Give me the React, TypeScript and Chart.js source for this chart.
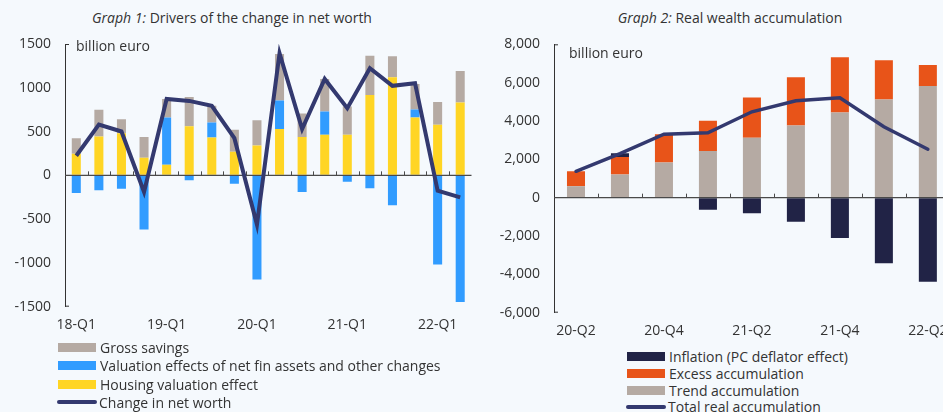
import React, { useEffect, useRef } from "react";
import { Chart, registerables } from "chart.js";

Chart.register(...registerables);

const FONT = "'Open Sans', 'Noto Sans', sans-serif";
const TEXT = "#333333";
const BG = "#f5f9fd";

// ---------- Graph 1 data ----------
const quarters1 = [
  "18-Q1", "18-Q2", "18-Q3", "18-Q4",
  "19-Q1", "19-Q2", "19-Q3", "19-Q4",
  "20-Q1", "20-Q2", "20-Q3", "20-Q4",
  "21-Q1", "21-Q2", "21-Q3", "21-Q4",
  "22-Q1", "22-Q2",
];
const housingValuation = [247, 444, 480, 201, 122, 562, 433, 270, 342, 528, 437, 463, 463, 919, 1120, 661, 577, 832];
const valuationEffects = [-201, -171, -152, -619, 539, -57, 171, -95, -1189, 327, -190, 266, -72, -148, -342, 91, -1018, -1447];
const grossSavings = [178, 304, 162, 236, 212, 334, 190, 250, 288, 531, 269, 372, 323, 448, 240, 292, 262, 361];
const netWorthChange = [224, 581, 501, -190, 873, 850, 794, 425, -562, 1394, 528, 1101, 767, 1223, 1022, 1052, -175, -251];
const labelEvery1 = 4;

// ---------- Graph 2 data ----------
const quarters2 = ["20-Q2", "20-Q3", "20-Q4", "21-Q1", "21-Q2", "21-Q3", "21-Q4", "22-Q1", "22-Q2"];
const trendAccumulation = [593, 1203, 1830, 2440, 3120, 3765, 4445, 5125, 5822];
const excessAccumulation = [784, 924, 1480, 1569, 2109, 2510, 2876, 2039, 1098];
const inflationEffect = [0, 190, 0, -627, -819, -1255, -2109, -3416, -4392];
const totalRealAccumulation = [1377, 2300, 3312, 3381, 4480, 5055, 5212, 3695, 2527];
const labelEvery2 = 2;

const C = {
  gray: "#b5aaa3",
  blue: "#319cff",
  yellow: "#ffd524",
  navyLine: "#33396f",
  navyBar: "#212346",
  orange: "#e85419",
};

function makeDecoPlugin(unitText: string, dx: number, dy: number) {
  return {
    id: "deco",
    beforeDatasetDraw(chart: any, args: any) {
      if (args.meta.type !== "line") return;
      const { ctx, chartArea, scales } = chart;
      const y0 = scales.y.getPixelForValue(0);
      ctx.save();
      ctx.strokeStyle = "#4a4a4a";
      ctx.lineWidth = 1.3;
      ctx.beginPath();
      ctx.moveTo(chartArea.left, y0);
      ctx.lineTo(chartArea.right, y0);
      ctx.stroke();
      const n = chart.data.labels.length;
      ctx.lineWidth = 1;
      ctx.beginPath();
      for (let i = 1; i < n; i++) {
        const x = Math.round((scales.x.getPixelForValue(i - 1) + scales.x.getPixelForValue(i)) / 2) + 0.5;
        ctx.moveTo(x, y0);
        ctx.lineTo(x, y0 - 4);
      }
      ctx.stroke();
      ctx.restore();
    },
    afterDraw(chart: any) {
      const { ctx, chartArea } = chart;
      ctx.save();
      ctx.strokeStyle = "#333";
      ctx.lineWidth = 1;
      ctx.beginPath();
      ctx.moveTo(chartArea.left, chartArea.top + 0.5);
      ctx.lineTo(chartArea.left + 4, chartArea.top + 0.5);
      ctx.moveTo(chartArea.left, chartArea.bottom - 0.5);
      ctx.lineTo(chartArea.left + 4, chartArea.bottom - 0.5);
      ctx.stroke();
      ctx.fillStyle = TEXT;
      ctx.font = `14px ${FONT}`;
      ctx.textBaseline = "middle";
      ctx.textAlign = "left";
      ctx.fillText(unitText, chartArea.left + dx, chartArea.top + dy);
      ctx.restore();
    },
  };
}

function ChartOne() {
  const ref = useRef<HTMLCanvasElement | null>(null);
  useEffect(() => {
    if (!ref.current) return;
    const chart = new Chart(ref.current, {
      type: "bar",
      data: {
        labels: quarters1,
        datasets: [
          {
            type: "line",
            label: "Change in net worth",
            data: netWorthChange,
            borderColor: C.navyLine,
            borderWidth: 4,
            pointRadius: 0,
            tension: 0,
            borderJoinStyle: "miter",
            stack: "total",
            order: 0,
          } as any,
          { label: "Housing valuation effect", data: housingValuation, backgroundColor: C.yellow, order: 1, stack: "s" },
          { label: "Valuation effects of net fin assets and other changes", data: valuationEffects, backgroundColor: C.blue, order: 1, stack: "s" },
          { label: "Gross savings", data: grossSavings, backgroundColor: C.gray, order: 1, stack: "s" },
        ],
      },
      options: {
        animation: false,
        responsive: false,
        devicePixelRatio: 1,
        datasets: { bar: { categoryPercentage: 0.5, barPercentage: 0.8 } },
        layout: { padding: { top: 44, right: 3.5, left: 0, bottom: 0 } },
        plugins: { legend: { display: false }, tooltip: { enabled: false }, title: { display: false } },
        scales: {
          x: {
            stacked: true,
            grid: { display: false, drawTicks: false },
            border: { display: false },
            ticks: {
              autoSkip: false,
              maxRotation: 0,
              padding: 10,
              color: TEXT,
              font: { family: FONT, size: 14 },
              callback: (_v: any, i: number) => (i % labelEvery1 === 0 ? quarters1[i] : ""),
            },
            afterFit: (s: any) => {
              s.height = 33.3;
            },
          },
          y: {
            stacked: true,
            min: -1500,
            max: 1500,
            grid: { display: true, drawOnChartArea: false, drawTicks: false },
            border: { display: true, color: "#333", width: 1 },
            ticks: {
              stepSize: 500,
              padding: 14,
              color: TEXT,
              font: { family: FONT, size: 14 },
              callback: (v: any) => String(v),
            },
            afterFit: (s: any) => {
              s.width = 65;
            },
          },
        },
      },
      plugins: [makeDecoPlugin("billion euro", 11, 3)],
    } as any);
    return () => chart.destroy();
  }, []);
  return (
    <canvas
      ref={ref}
      width={475}
      height={340}
      style={{ position: "absolute", left: 0, top: 0, width: 475, height: 340 }}
    />
  );
}

function ChartTwo() {
  const ref = useRef<HTMLCanvasElement | null>(null);
  useEffect(() => {
    if (!ref.current) return;
    const chart = new Chart(ref.current, {
      type: "bar",
      data: {
        labels: quarters2,
        datasets: [
          {
            type: "line",
            label: "Total real accumulation",
            data: totalRealAccumulation,
            borderColor: C.navyLine,
            borderWidth: 3.5,
            pointRadius: 0,
            tension: 0,
            borderCapStyle: "round",
            borderJoinStyle: "miter",
            stack: "total",
            order: 0,
          } as any,
          { label: "Trend accumulation", data: trendAccumulation, backgroundColor: C.gray, order: 1, stack: "s" },
          { label: "Excess accumulation", data: excessAccumulation, backgroundColor: C.orange, order: 1, stack: "s" },
          { label: "Inflation (PC deflator effect)", data: inflationEffect, backgroundColor: C.navyBar, order: 1, stack: "s" },
        ],
      },
      options: {
        animation: false,
        responsive: false,
        devicePixelRatio: 1,
        datasets: { bar: { categoryPercentage: 0.5, barPercentage: 0.82 } },
        layout: { padding: { top: 44.3, right: 8, left: 0, bottom: 0 } },
        plugins: { legend: { display: false }, tooltip: { enabled: false }, title: { display: false } },
        scales: {
          x: {
            stacked: true,
            grid: { display: false, drawTicks: false },
            border: { display: false },
            ticks: {
              autoSkip: false,
              maxRotation: 0,
              padding: 10,
              color: TEXT,
              font: { family: FONT, size: 14 },
              callback: (_v: any, i: number) => (i % labelEvery2 === 0 ? quarters2[i] : ""),
            },
            afterFit: (s: any) => {
              s.height = 32.3;
            },
          },
          y: {
            stacked: true,
            min: -6000,
            max: 8000,
            grid: { display: true, drawOnChartArea: false, drawTicks: false },
            border: { display: true, color: "#333", width: 1 },
            ticks: {
              stepSize: 2000,
              padding: 14,
              color: TEXT,
              font: { family: FONT, size: 14 },
              callback: (v: any) => Number(v).toLocaleString("en-US"),
            },
            afterFit: (s: any) => {
              s.width = 76;
            },
          },
        },
      },
      plugins: [makeDecoPlugin("billion euro", 15, 10)],
    } as any);
    return () => chart.destroy();
  }, []);
  return (
    <canvas
      ref={ref}
      width={480}
      height={345}
      style={{ position: "absolute", left: 478, top: 0, width: 480, height: 345 }}
    />
  );
}

type LegendItem = { label: string; color: string; line?: boolean };

function Legend({ items, left, top, rowH }: { items: LegendItem[]; left: number; top: number; rowH: number }) {
  return (
    <div style={{ position: "absolute", left, top, fontFamily: FONT, fontSize: 14, color: TEXT }}>
      {items.map((it) => (
        <div key={it.label} style={{ display: "flex", alignItems: "center", height: rowH, whiteSpace: "nowrap" }}>
          {it.line ? (
            <div style={{ width: 40, height: 4, borderRadius: 2, background: it.color, marginRight: 2, marginLeft: -1 }} />
          ) : (
            <div style={{ width: 38, height: 9, background: it.color, marginRight: 4 }} />
          )}
          <span>{it.label}</span>
        </div>
      ))}
    </div>
  );
}

export default function App() {
  return (
    <div
      style={{
        position: "absolute",
        left: 0,
        top: 0,
        width: 943,
        height: 412,
        overflow: "hidden",
        background: BG,
      }}
    >
      <div
        style={{
          position: "absolute",
          left: 232,
          top: 8,
          transform: "translateX(-50%)",
          whiteSpace: "nowrap",
          fontFamily: FONT,
          fontSize: 14,
          lineHeight: "20px",
          color: TEXT,
        }}
      >
        <i>Graph 1:</i> Drivers of the change in net worth
      </div>
      <div
        style={{
          position: "absolute",
          left: 730,
          top: 8,
          transform: "translateX(-50%)",
          whiteSpace: "nowrap",
          fontFamily: FONT,
          fontSize: 14,
          lineHeight: "20px",
          color: TEXT,
        }}
      >
        <i>Graph 2:</i> Real wealth accumulation
      </div>
      <ChartOne />
      <ChartTwo />
      <Legend
        left={58}
        top={338.1}
        rowH={18.4}
        items={[
          { label: "Gross savings", color: C.gray },
          { label: "Valuation effects of net fin assets and other changes", color: C.blue },
          { label: "Housing valuation effect", color: C.yellow },
          { label: "Change in net worth", color: C.navyLine, line: true },
        ]}
      />
      <Legend
        left={627}
        top={348.4}
        rowH={16.7}
        items={[
          { label: "Inflation (PC deflator effect)", color: C.navyBar },
          { label: "Excess accumulation", color: C.orange },
          { label: "Trend accumulation", color: C.gray },
          { label: "Total real accumulation", color: C.navyLine, line: true },
        ]}
      />
    </div>
  );
}
